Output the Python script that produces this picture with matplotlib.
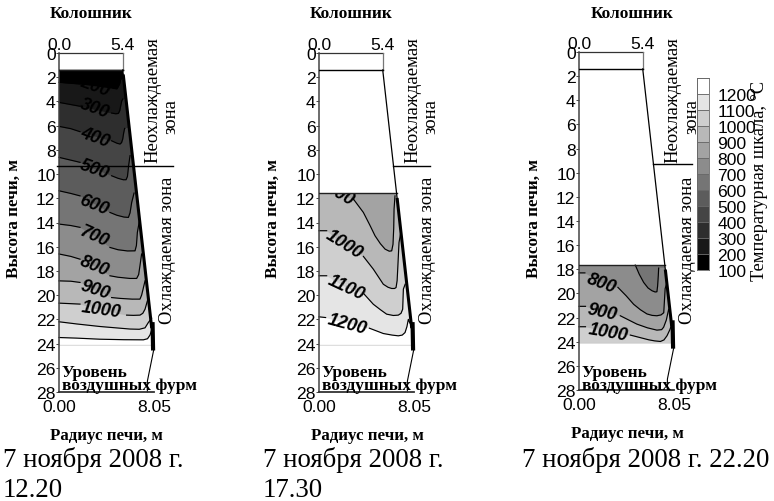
import numpy as np
import matplotlib
matplotlib.use("Agg")
import matplotlib.pyplot as plt
from matplotlib.patches import Polygon
from matplotlib.transforms import Bbox

W, H = 774, 502
plt.rcParams['font.family'] = ['Liberation Sans', 'DejaVu Sans']

# данные: уровень -> цвет полосы под изотермой
band_levels = [200, 300, 400, 500, 600, 700, 800, 900, 1000, 1100, 1200]
band_greys = ['#181818', '#2e2e2e', '#454545', '#5c5c5c', '#757575', '#8c8c8c',
              '#a3a3a3', '#b8b8b8', '#cfcfcf', '#e5e5e5', '#ffffff']
scale_labels = ['100', '200', '300', '400', '500', '600', '700', '800', '900',
                '1000', '1100', '1200']
scale_greys = ['#000000', '#181818', '#2e2e2e', '#454545', '#5c5c5c', '#757575',
               '#8c8c8c', '#a3a3a3', '#b8b8b8', '#cfcfcf', '#e5e5e5', '#ffffff']

height_ticks = list(range(0, 29, 2))
wall_r = [5.4, 8.05]
wall_h = [1.4, 24.4]
tuyere_r = [8.05, 7.49, 7.49]
tuyere_h = [24.4, 27.1, 28.0]

# панель 1, 12.20
p1_levels = [200, 300, 400, 500, 600, 700, 800, 900, 1000, 1100, 1200]
p1_r = [
    [0, 1.78, 3.0, 4.6, 4.9, 5.03, 5.15, 5.23],
    [0, 1.78, 3.0, 4.46, 4.8, 5.03, 5.15, 5.23, 5.32, 5.4],
    [0, 1.0, 1.78, 3.0, 4.46, 4.9, 5.17, 5.3, 5.4, 5.48, 5.56],
    [0, 1.0, 1.78, 3.0, 4.46, 5.0, 5.45, 5.68, 5.8, 5.9, 6.02],
    [0, 1.0, 1.78, 3.0, 4.32, 4.9, 5.5, 5.88, 6.02, 6.16, 6.36],
    [0, 1.0, 1.78, 3.0, 4.32, 5.0, 5.8, 6.44, 6.56, 6.64, 6.8],
    [0, 1.0, 1.78, 3.0, 4.32, 5.0, 6.0, 6.58, 6.75, 6.86, 7.0],
    [0, 1.0, 1.78, 3.0, 4.46, 5.2, 6.2, 6.86, 7.0, 7.09, 7.29],
    [0, 0.9, 1.78, 3.5, 5.73, 6.3, 6.86, 7.1, 7.29, 7.49],
    [0, 1.5, 3.47, 6.02, 6.8, 7.29, 7.57, 7.85],
    [0, 1.5, 3.47, 5.5, 7.15, 7.5, 7.71, 7.88],
]
p1_d = [
    [2.42, 2.56, 2.7, 2.92, 2.96, 2.75, 2.5, 2.15],
    [4.08, 4.4, 4.65, 4.96, 5.02, 4.99, 4.75, 4.35, 3.95, 3.8],
    [6.06, 6.25, 6.5, 6.85, 7.25, 7.45, 7.52, 7.4, 7.1, 6.6, 6.23],
    [8.62, 8.85, 9.03, 9.55, 10.14, 10.35, 10.47, 10.47, 10.2, 9.3, 8.48],
    [11.38, 11.6, 11.8, 12.45, 13.17, 13.4, 13.55, 13.58, 13.2, 12.34, 11.57],
    [14.13, 14.25, 14.4, 15.1, 16.06, 16.25, 16.35, 16.34, 15.9, 14.82, 13.94],
    [16.6, 16.8, 17.03, 17.6, 18.4, 18.52, 18.62, 18.62, 18.3, 17.57, 16.6],
    [18.82, 18.85, 18.95, 19.55, 20.2, 20.27, 20.33, 20.33, 20.0, 19.64, 18.82],
    [20.66, 20.7, 20.74, 21.2, 21.65, 21.67, 21.65, 21.5, 21.16, 20.47],
    [22.2, 22.38, 22.59, 22.8, 22.82, 22.7, 22.26, 21.9],
    [23.5, 23.55, 23.64, 23.68, 23.69, 23.6, 23.3, 22.8],
]
p1_gaps = [(1.78, 4.6), (1.78, 4.46), (1.78, 4.46), (1.78, 4.46), (1.78, 4.32),
           (1.78, 4.32), (1.78, 4.32), (1.78, 4.46), (1.78, 5.73), (9, 9), (9, 9)]
p1_label_r = [3.05, 3.05, 3.05, 3.0, 2.97, 3.0, 3.0, 3.05, 3.56]
p1_label_d = [2.75, 4.57, 6.97, 9.59, 12.48, 15.1, 17.57, 19.5, 21.2]
p1_label_rot = [-20, -20, -20, -20, -22, -24, -22, -18, -8]

# панель 2, 17.30
p2_levels = [900, 1000, 1100, 1200]
p2_r = [
    [0, 1.5, 2.91, 3.76, 4.3, 4.75, 5.2, 5.6, 5.95, 6.16, 6.27, 6.33, 6.36, 6.44],
    [0, 0.65, 2.0, 3.76, 4.6, 5.45, 5.85, 6.16, 6.4, 6.53, 6.62, 6.67, 6.78, 6.9],
    [0, 0.65, 2.2, 3.81, 4.6, 5.2, 5.73, 6.3, 6.72, 6.95, 7.09, 7.15, 7.3],
    [0, 0.56, 2.4, 4.27, 5.45, 6.2, 6.72, 7.05, 7.29, 7.45, 7.57, 7.7],
]
p2_d = [
    [11.6, 11.6, 12.06, 13.17, 14.2, 15.1, 15.75, 16.2, 16.37, 16.34, 15.8, 14.5, 12.9, 11.8],
    [14.68, 14.68, 15.8, 16.8, 17.85, 19.1, 19.35, 19.45, 19.45, 19.37, 18.8, 17.85, 15.65, 15.0],
    [18.4, 18.4, 19.3, 19.9, 20.75, 21.2, 21.57, 21.68, 21.65, 21.5, 21.16, 19.5, 19.1],
    [21.79, 21.85, 22.3, 22.73, 23.17, 23.3, 23.36, 23.3, 23.09, 22.6, 22.0, 22.3],
]
p2_gaps = [(-1, 2.91), (0.65, 3.76), (0.65, 3.81), (0.56, 4.27)]
p2_label_r = [1.75, 2.15, 2.29, 2.4]
p2_label_d = [11.6, 15.79, 19.37, 22.34]
p2_label_rot = [-30, -32, -25, -15]

# панель 3, 22.20
p3_levels = [700, 800, 900, 1000]
p3_r = [
    [0, 2.5, 4.77, 5.1, 5.48, 5.85, 6.19, 6.45, 6.6, 6.66, 6.72, 6.75],
    [0, 0.5, 1.9, 3.3, 4.0, 4.63, 5.2, 5.76, 6.2, 6.6, 6.95, 7.18, 7.3, 7.46],
    [0, 0.55, 2.0, 3.5, 4.9, 5.8, 6.6, 7.0, 7.17, 7.4, 7.6, 7.7],
    [0, 0.55, 2.5, 4.35, 5.9, 6.4, 6.9, 7.2, 7.46, 7.7, 7.88],
]
p3_d = [
    [17.6, 17.6, 17.65, 18.4, 19.09, 19.55, 19.78, 19.88, 19.86, 19.4, 18.5, 17.9],
    [18.3, 18.3, 19.1, 19.5, 20.2, 20.9, 21.35, 21.7, 21.82, 21.85, 21.78, 21.6, 19.6, 19.1],
    [21.07, 21.07, 21.5, 21.85, 22.54, 22.85, 23.04, 23.0, 22.8, 22.2, 21.3, 21.6],
    [22.76, 22.76, 23.2, 23.45, 23.84, 23.93, 23.98, 23.85, 23.5, 23.0, 22.5],
]
p3_gaps = [(-1, 4.77), (0.5, 3.3), (0.55, 3.5), (0.55, 4.35)]
p3_label_r = [1.89, 2.0, 2.5]
p3_label_d = [19.09, 21.5, 23.23]
p3_label_rot = [-20, -12, -10]

serif = ['Liberation Serif', 'DejaVu Serif']
TICK = 12.6


def wall_at(h):
    return np.interp(h, wall_h, wall_r)


def px_text(x, y, s, **kw):
    # координаты в пикселях картинки
    kw.setdefault('family', serif)
    kw.setdefault('ha', 'center')
    kw.setdefault('va', 'center')
    fig.text(x / W, 1 - y / H, s, **kw)


def draw_panel(left, top, bottom, charge_top, base_grey, levels, radii, depths, gaps,
               label_levels, label_r, label_d, label_rot, neo_span):
    ax = fig.add_axes([left / W, 1 - bottom / H, 95 / W, (bottom - top) / H])
    ax.set_xlim(0, 8.05)
    ax.set_ylim(28, 0)
    ax.patch.set_visible(False)
    for s in ax.spines.values():
        s.set_visible(False)

    # контур шихты
    outline = [(0, charge_top), (wall_at(charge_top), charge_top), (wall_at(24.1), 24.1), (0, 24.1)]
    clip = Polygon(outline, closed=True, transform=ax.transData, fc='none', ec='none')
    ax.add_patch(clip)
    ax.add_patch(Polygon(outline, closed=True, fc=base_grey, ec='none'))

    for lev, r, d, gap in zip(levels, radii, depths, gaps):
        r = np.array(r, float)
        d = np.array(d, float)
        grey = band_greys[band_levels.index(lev)]
        rf = np.append(r, 8.3)
        df = np.append(d, d[-1])
        poly = ax.fill_between(rf, df, 24.1, color=grey, lw=0, zorder=2)
        poly.set_clip_path(clip)
        dl = np.where((r > gap[0]) & (r < gap[1]), np.nan, d)
        ax.plot(r, dl, color='black', lw=0.85, zorder=3, clip_on=False)

    # agg режет текст только прямоугольником
    box = Bbox(ax.transData.transform([(0, 24.1), (8.05, charge_top)]))
    for lev, r, d, rot in zip(label_levels, label_r, label_d, label_rot):
        t = ax.text(r, d, str(lev), fontsize=13, fontweight='bold', fontstyle='italic',
                    ha='center', va='center', rotation=rot, zorder=4, color='black',
                    clip_on=True)
        t.set_clip_box(box)

    # стенка печи
    ax.plot([0, 5.4], [0, 0], color='#333333', lw=0.9, clip_on=False, zorder=5)
    ax.plot([5.4, 5.4], [0, 1.4], color='#777777', lw=0.9, zorder=5)
    ax.plot([0, 0], [0, 28], color='#444444', lw=1.1, clip_on=False, zorder=5)
    ax.plot([0, 5.4], [1.4, 1.4], color='black', lw=1.0, zorder=5)
    ax.plot([0, wall_at(charge_top)], [charge_top, charge_top], color='#222222', lw=1.0, zorder=5)
    ax.plot(wall_r, wall_h, color='black', lw=0.9, zorder=5, clip_on=False)
    ax.plot([wall_at(charge_top + 0.5), wall_at(22.6)], [charge_top + 0.5, 22.6], color='black',
            lw=2.2, zorder=5, clip_on=False)
    ax.plot([7.93, 7.97], [22.4, 24.4], color='black', lw=3.0, zorder=5, clip_on=False)
    ax.plot(tuyere_r, tuyere_h, color='black', lw=0.8, zorder=5, clip_on=False)
    ax.plot([0, 8.05], [24.1, 24.1], color='#dddddd', lw=0.7, zorder=1)
    ax.plot([0, 8.05], [28, 28], color='#333333', lw=1.3, zorder=5, clip_on=False)
    ax.plot(neo_span, [9.3, 9.3], color='black', lw=1.0, zorder=6, clip_on=False)

    ax.set_yticks(height_ticks)
    ax.set_yticklabels([str(v) for v in height_ticks])
    ax.tick_params(axis='y', labelsize=TICK, length=2, width=0.7, pad=0.5, color='#444444')
    ax.set_xticks([0, 8.05])
    ax.set_xticklabels(['0.00', '8.05'])
    ax.tick_params(axis='x', labelsize=TICK, length=0, pad=5)
    top_ax = ax.secondary_xaxis('top')
    top_ax.set_xticks([0, 5.4])
    top_ax.set_xticklabels(['0.0', '5.4'])
    top_ax.tick_params(labelsize=TICK, length=0, pad=1)
    top_ax.spines['top'].set_visible(False)
    return ax


fig = plt.figure(figsize=(W / 100, H / 100), dpi=100)

draw_panel(59, 54, 393, 1.4, '#000000', p1_levels, p1_r, p1_d, p1_gaps,
           p1_levels[:9], p1_label_r, p1_label_d, p1_label_rot, (-0.2, 9.66))
draw_panel(319, 54, 393, 11.6, '#a3a3a3', p2_levels, p2_r, p2_d, p2_gaps,
           p2_levels, p2_label_r, p2_label_d, p2_label_rot, (6.27, 9.4))
draw_panel(579, 53, 391, 17.65, '#757575', p3_levels, p3_r, p3_d, p3_gaps,
           p3_levels[1:], p3_label_r, p3_label_d, p3_label_rot, (6.3, 9.6))

# подписи панелей
for x_axis, x_top, x_rad, y_rad, x_oh, x_neo, x_zona, x_y in [
        (59, 91, 106, 436, 168, 153, 171, 14),
        (319, 351, 367, 436, 428, 413, 431, 273),
        (579, 632, 627, 434, 688, 673, 692, 534)]:
    px_text(x_top, 14, 'Колошник', fontsize=12.4, fontweight='bold')
    px_text(x_rad, y_rad, 'Радиус печи, м', fontsize=12.2, fontweight='bold')
    px_text(x_y, 218, 'Высота печи, м', fontsize=12.3, fontweight='bold', rotation=90)
    px_text(x_neo, 100, 'Неохлаждаемая', fontsize=13.5, rotation=90)
    px_text(x_zona, 117, 'зона', fontsize=13.5, rotation=90)
    px_text(x_oh, 250, 'Охлаждаемая зона', fontsize=13.4, rotation=90)
    px_text(x_axis + 3, 373, 'Уровень', fontsize=12.5, fontweight='bold', ha='left')
    px_text(x_axis + 3, 386, 'воздушных фурм', fontsize=12.5, fontweight='bold', ha='left')

px_text(3, 460, '7 ноября 2008 г.', fontsize=19.3, ha='left')
px_text(3, 491, '12.20', fontsize=19.3, ha='left')
px_text(263, 460, '7 ноября 2008 г.', fontsize=19.3, ha='left')
px_text(263, 491, '17.30', fontsize=19.3, ha='left')
px_text(522, 460, '7 ноября 2008 г. 22.20', fontsize=19.3, ha='left')

# температурная шкала
cb = fig.add_axes([697 / W, 1 - 271 / H, 12 / W, 192 / H])
cb.bar(np.zeros(12), np.ones(12), bottom=np.arange(12), width=1, color=scale_greys,
       edgecolor='#666666', linewidth=0.6)
cb.set_xlim(-0.5, 0.5)
cb.set_ylim(0, 12)
cb.set_xticks([])
cb.yaxis.tick_right()
cb.set_yticks(np.arange(12))
cb.set_yticklabels(scale_labels)
cb.tick_params(axis='y', labelsize=TICK, length=0, pad=6)
for s in cb.spines.values():
    s.set_color('#666666')
    s.set_linewidth(0.6)
px_text(759, 181, 'Температурная шкала, °С', fontsize=13.2, rotation=90)

fig.savefig('out.png', dpi=100)
